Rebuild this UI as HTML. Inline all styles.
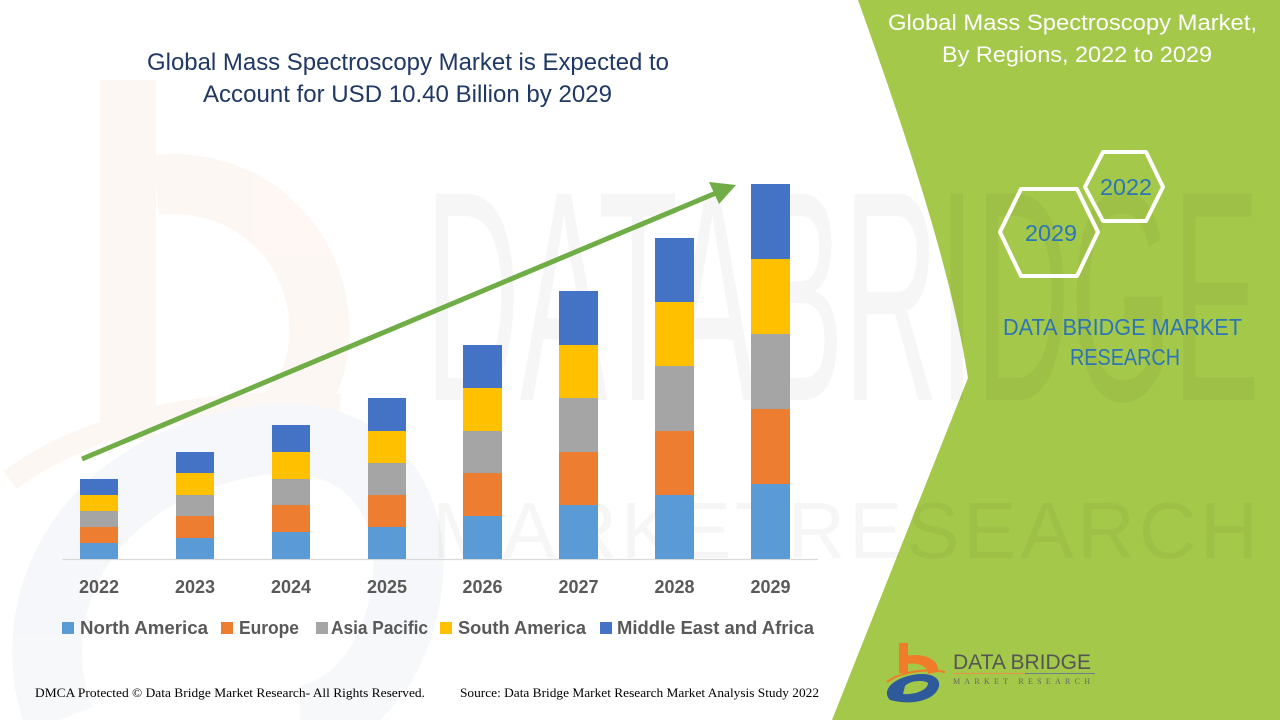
<!DOCTYPE html>
<html>
<head>
<meta charset="utf-8">
<style>
html,body{margin:0;padding:0;background:#fff;}
svg{display:block;}
</style>
</head>
<body>
<svg width="1280" height="720" viewBox="0 0 1280 720" xmlns="http://www.w3.org/2000/svg">
  <rect x="0" y="0" width="1280" height="720" fill="#ffffff"/>

  <!-- faint left logo watermark -->
  <g opacity="0.35">
    <rect x="100" y="80" width="56" height="360" fill="#fbe9e0"/>
    <path d="M156,185 C260,175 330,260 318,350 C310,410 260,440 200,445" fill="none" stroke="#fbe9e0" stroke-width="60"/>
    <path d="M10,480 C90,420 220,395 340,405" fill="none" stroke="#fbe9e0" stroke-width="22"/>
    <path d="M60,720 C20,620 70,470 260,440 C380,425 430,520 400,620 C380,690 330,720 300,720" fill="none" stroke="#e6ebf2" stroke-width="70"/>
  </g>

  <!-- green panel -->
  <path d="M858,0 L1280,0 L1280,720 L832,720 L968,378 C950,262 898,112 858,0 Z" fill="#a4c84a"/>

  <!-- faint DATA BRIDGE watermark -->
  <g fill="#000000" opacity="0.03" font-family="Liberation Sans, sans-serif">
    <text x="425" y="400" font-size="300" textLength="835" lengthAdjust="spacingAndGlyphs">DATABRIDGE</text>
    <text x="432" y="558" font-size="80" textLength="826" lengthAdjust="spacing">MARKETRESEARCH</text>
  </g>

  <!-- left title -->
  <g font-family="Liberation Sans, sans-serif" font-size="24" fill="#1f3864">
    <text x="147" y="70" textLength="522" lengthAdjust="spacingAndGlyphs">Global Mass Spectroscopy Market is Expected to</text>
    <text x="203" y="102" textLength="409" lengthAdjust="spacingAndGlyphs">Account for USD 10.40 Billion by 2029</text>
  </g>

  <!-- axis line -->
  <line x1="62" y1="559.5" x2="818" y2="559.5" stroke="#d9d9d9" stroke-width="1.2"/>

  <!-- bars -->
  <g>
    <rect x="80" y="543" width="38" height="16" fill="#5b9bd5"/>
    <rect x="80" y="527" width="38" height="16" fill="#ed7d31"/>
    <rect x="80" y="511" width="38" height="16" fill="#a5a5a5"/>
    <rect x="80" y="495" width="38" height="16" fill="#ffc000"/>
    <rect x="80" y="479" width="38" height="16" fill="#4472c4"/>

    <rect x="176" y="538" width="38" height="21" fill="#5b9bd5"/>
    <rect x="176" y="516" width="38" height="22" fill="#ed7d31"/>
    <rect x="176" y="495" width="38" height="21" fill="#a5a5a5"/>
    <rect x="176" y="473" width="38" height="22" fill="#ffc000"/>
    <rect x="176" y="452" width="38" height="21" fill="#4472c4"/>

    <rect x="272" y="532" width="38" height="27" fill="#5b9bd5"/>
    <rect x="272" y="505" width="38" height="27" fill="#ed7d31"/>
    <rect x="272" y="479" width="38" height="26" fill="#a5a5a5"/>
    <rect x="272" y="452" width="38" height="27" fill="#ffc000"/>
    <rect x="272" y="425" width="38" height="27" fill="#4472c4"/>

    <rect x="368" y="527" width="38" height="32" fill="#5b9bd5"/>
    <rect x="368" y="495" width="38" height="32" fill="#ed7d31"/>
    <rect x="368" y="463" width="38" height="32" fill="#a5a5a5"/>
    <rect x="368" y="431" width="38" height="32" fill="#ffc000"/>
    <rect x="368" y="398" width="38" height="33" fill="#4472c4"/>

    <rect x="463" y="516" width="39" height="43" fill="#5b9bd5"/>
    <rect x="463" y="473" width="39" height="43" fill="#ed7d31"/>
    <rect x="463" y="431" width="39" height="42" fill="#a5a5a5"/>
    <rect x="463" y="388" width="39" height="43" fill="#ffc000"/>
    <rect x="463" y="345" width="39" height="43" fill="#4472c4"/>

    <rect x="559" y="505" width="39" height="54" fill="#5b9bd5"/>
    <rect x="559" y="452" width="39" height="53" fill="#ed7d31"/>
    <rect x="559" y="398" width="39" height="54" fill="#a5a5a5"/>
    <rect x="559" y="345" width="39" height="53" fill="#ffc000"/>
    <rect x="559" y="291" width="39" height="54" fill="#4472c4"/>

    <rect x="655" y="495" width="39" height="64" fill="#5b9bd5"/>
    <rect x="655" y="431" width="39" height="64" fill="#ed7d31"/>
    <rect x="655" y="366" width="39" height="65" fill="#a5a5a5"/>
    <rect x="655" y="302" width="39" height="64" fill="#ffc000"/>
    <rect x="655" y="238" width="39" height="64" fill="#4472c4"/>

    <rect x="751" y="484" width="39" height="75" fill="#5b9bd5"/>
    <rect x="751" y="409" width="39" height="75" fill="#ed7d31"/>
    <rect x="751" y="334" width="39" height="75" fill="#a5a5a5"/>
    <rect x="751" y="259" width="39" height="75" fill="#ffc000"/>
    <rect x="751" y="184" width="39" height="75" fill="#4472c4"/>
  </g>

  <!-- arrow -->
  <line x1="82" y1="459" x2="716" y2="193" stroke="#70ad47" stroke-width="5"/>
  <polygon points="736,185 719,204 709,182" fill="#70ad47"/>

  <!-- year labels -->
  <g font-family="Liberation Sans, sans-serif" font-size="18" font-weight="bold" fill="#595959" text-anchor="middle">
    <text x="99" y="593">2022</text>
    <text x="195" y="593">2023</text>
    <text x="291" y="593">2024</text>
    <text x="387" y="593">2025</text>
    <text x="482.5" y="593">2026</text>
    <text x="578.5" y="593">2027</text>
    <text x="674.5" y="593">2028</text>
    <text x="770.5" y="593">2029</text>
  </g>

  <!-- legend -->
  <rect x="62" y="622" width="12" height="12" fill="#5b9bd5"/>
  <rect x="221" y="622" width="12" height="12" fill="#ed7d31"/>
  <rect x="316" y="622" width="12" height="12" fill="#a5a5a5"/>
  <rect x="440" y="622" width="12" height="12" fill="#ffc000"/>
  <rect x="600" y="622" width="12" height="12" fill="#4472c4"/>
  <g font-family="Liberation Sans, sans-serif" font-size="18" font-weight="bold" fill="#595959">
    <text x="80" y="634" textLength="128" lengthAdjust="spacingAndGlyphs">North America</text>
    <text x="239" y="634" textLength="60" lengthAdjust="spacingAndGlyphs">Europe</text>
    <text x="331" y="634" textLength="97" lengthAdjust="spacingAndGlyphs">Asia Pacific</text>
    <text x="458" y="634" textLength="128" lengthAdjust="spacingAndGlyphs">South America</text>
    <text x="617" y="634" textLength="197" lengthAdjust="spacingAndGlyphs">Middle East and Africa</text>
  </g>

  <!-- footer -->
  <g font-family="Liberation Serif, serif" font-size="13" fill="#000000">
    <text x="35" y="697" textLength="390" lengthAdjust="spacingAndGlyphs">DMCA Protected © Data Bridge Market Research- All Rights Reserved.</text>
    <text x="460" y="697" textLength="359" lengthAdjust="spacingAndGlyphs">Source: Data Bridge Market Research Market Analysis Study 2022</text>
  </g>

  <!-- right panel title -->
  <g font-family="Liberation Sans, sans-serif" font-size="22" fill="#ffffff">
    <text x="888" y="30" textLength="369" lengthAdjust="spacingAndGlyphs">Global Mass Spectroscopy Market,</text>
    <text x="942" y="62" textLength="270" lengthAdjust="spacingAndGlyphs">By Regions, 2022 to 2029</text>
  </g>

  <!-- hexagons -->
  <polygon points="1085,187 1103,152 1146,152 1163,187 1146,221 1103,221" fill="none" stroke="#ffffff" stroke-width="4" stroke-linejoin="round"/>
  <polygon points="1000,232 1021,189 1077,189 1098,232 1077,276 1021,276" fill="none" stroke="#ffffff" stroke-width="4" stroke-linejoin="round"/>
  <g font-family="Liberation Sans, sans-serif" font-size="23" fill="#2e75b6">
    <text x="1100" y="195" textLength="52" lengthAdjust="spacingAndGlyphs">2022</text>
    <text x="1025" y="241" textLength="52" lengthAdjust="spacingAndGlyphs">2029</text>
    <text x="1003" y="335" textLength="239" lengthAdjust="spacingAndGlyphs">DATA BRIDGE MARKET</text>
    <text x="1070" y="365" textLength="110" lengthAdjust="spacingAndGlyphs">RESEARCH</text>
  </g>

  <!-- bottom logo -->
  <g>
    <rect x="899" y="643" width="9" height="30" fill="#f07c2a"/>
    <path d="M904,656 C925,652 940,660 938,672 L928,674 C928,666 918,662 906,664 Z" fill="#f07c2a"/>
    <path d="M887,682 C900,672 925,668 945,672" fill="none" stroke="#f07c2a" stroke-width="2"/>
    <path d="M890,700 C880,690 895,676 920,674 C940,673 945,686 932,696 C922,703 905,704 890,700 Z M903,694 C915,695 928,690 928,683 C925,680 910,680 905,686 Z" fill="#2e5a9c" fill-rule="evenodd"/>
    <text x="953" y="669" font-family="Liberation Sans, sans-serif" font-size="21" fill="#555555" textLength="138" lengthAdjust="spacingAndGlyphs">DATA BRIDGE</text>
    <line x1="953" y1="673.5" x2="1025" y2="673.5" stroke="#e8904a" stroke-width="1"/>
    <line x1="1025" y1="673.5" x2="1095" y2="673.5" stroke="#6b7f8f" stroke-width="1"/>
    <text x="953" y="684" font-family="Liberation Serif, serif" font-size="8" fill="#666666" textLength="137" lengthAdjust="spacing">MARKET  RESEARCH</text>
  </g>
</svg>
</body>
</html>
